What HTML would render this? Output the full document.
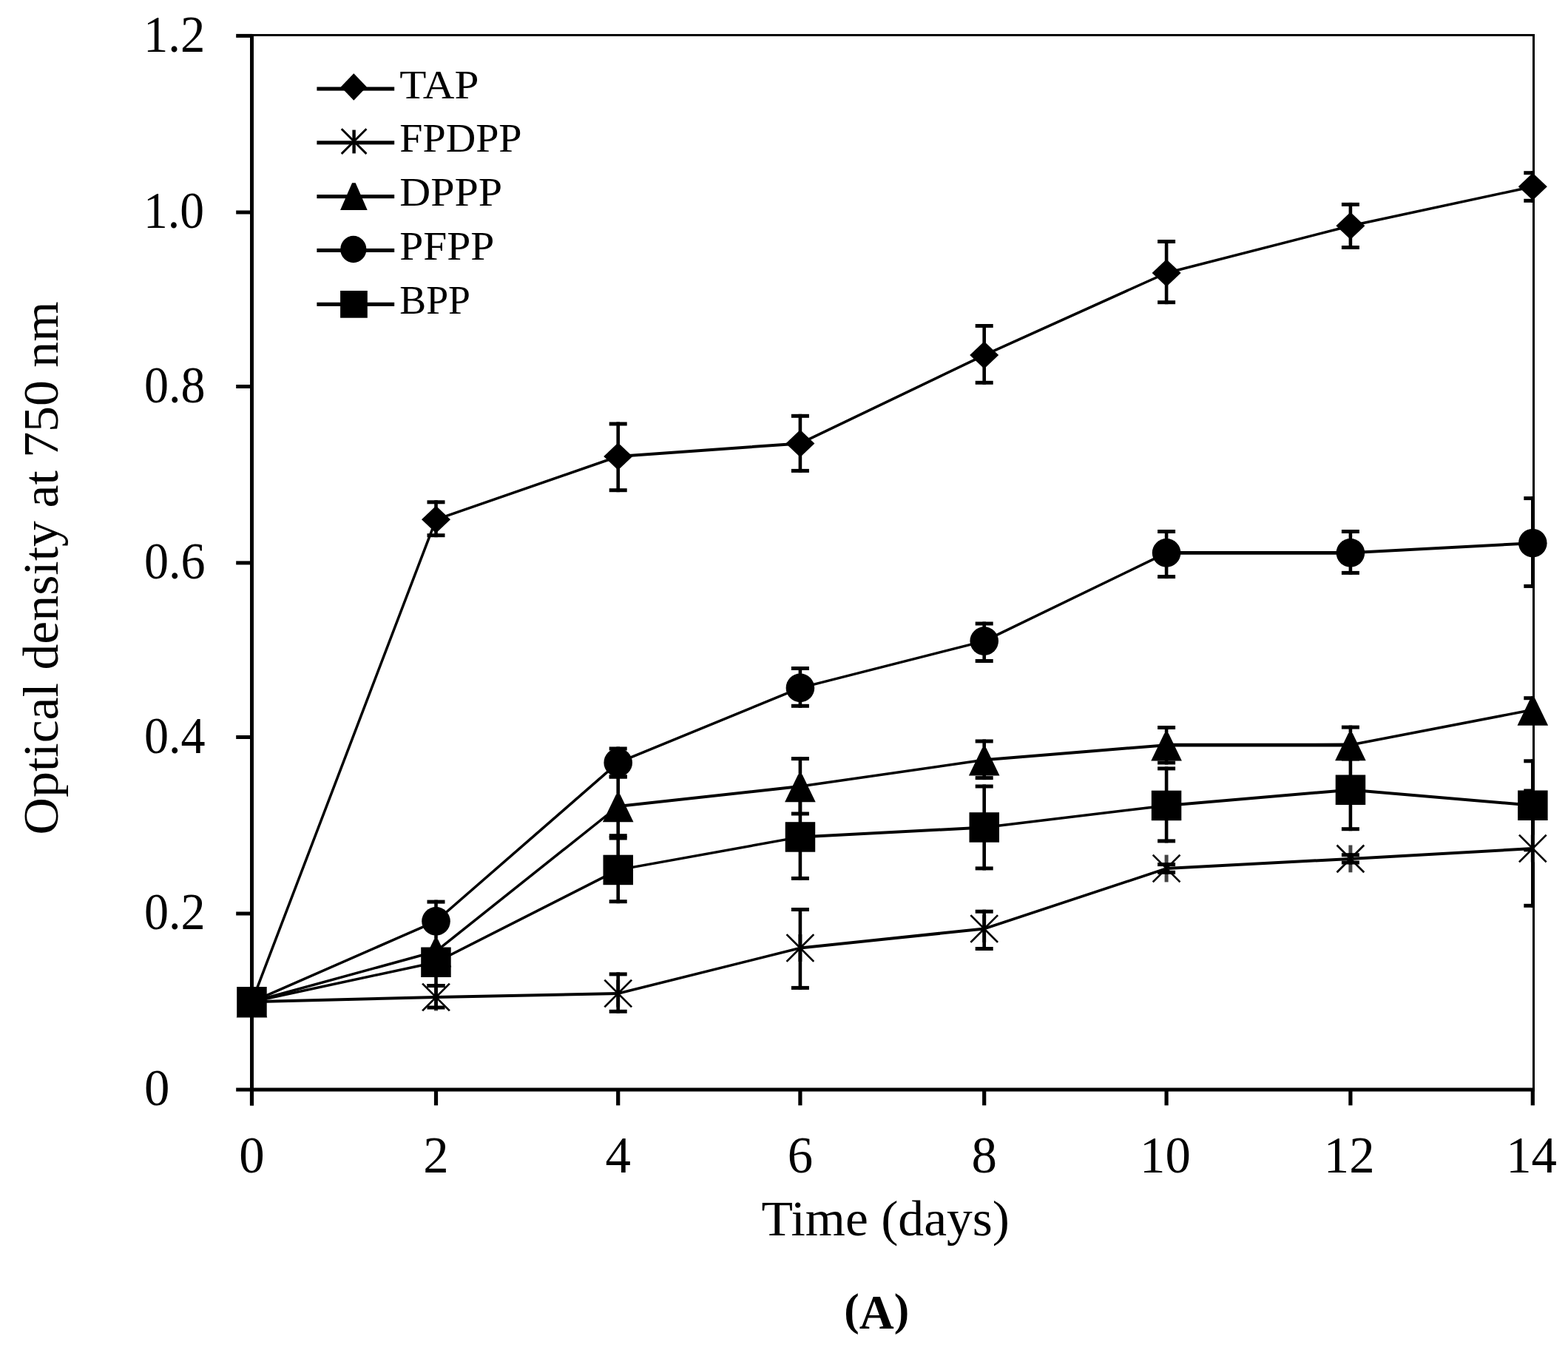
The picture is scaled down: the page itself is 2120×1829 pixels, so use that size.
<!DOCTYPE html>
<html><head><meta charset="utf-8"><title>Optical density chart</title>
<style>
html,body{margin:0;padding:0;background:#fff;}
body{width:2120px;height:1829px;overflow:hidden;}
svg{display:block;}
text{font-family:"Liberation Serif","Times New Roman",serif;fill:#000;}
</style></head>
<body>
<svg width="2120" height="1829" viewBox="0 0 2120 1829">
<defs><clipPath id="pc"><rect x="0" y="0" width="2074.6" height="1829"/></clipPath></defs>
<rect width="2120" height="1829" fill="#fff"/>
<g fill="#000">
<rect x="338" y="46" width="1737" height="3"/>
<rect x="2072" y="46" width="3" height="1429"/>
<rect x="338" y="46" width="5" height="1448.5"/>
<rect x="338" y="1470.5" width="1737" height="5"/>
<rect x="319.2" y="1470.5" width="22" height="5"/>
<rect x="319.2" y="1232.5" width="22" height="5"/>
<rect x="319.2" y="994" width="22" height="5"/>
<rect x="319.2" y="758.4" width="22" height="5"/>
<rect x="319.2" y="520" width="22" height="5"/>
<rect x="319.2" y="284.5" width="22" height="5"/>
<rect x="319.2" y="45.9" width="22" height="5"/>
<rect x="337.9" y="1472" width="5.2" height="22.3"/>
<rect x="586.9" y="1472" width="5.2" height="22.3"/>
<rect x="833.1" y="1472" width="5.2" height="22.3"/>
<rect x="1079.3" y="1472" width="5.2" height="22.3"/>
<rect x="1328.1" y="1472" width="5.2" height="22.3"/>
<rect x="1574.5" y="1472" width="5.2" height="22.3"/>
<rect x="1823.3" y="1472" width="5.2" height="22.3"/>
<rect x="2069.7" y="1472" width="5.2" height="22.3"/>
</g>
<g>
<g stroke="#000" stroke-linecap="round"><line x1="340.5" y1="1354.3" x2="589.5" y2="702.3" stroke-width="3.5"/><line x1="589.5" y1="702.3" x2="835.7" y2="617" stroke-width="3.5"/><line x1="835.7" y1="617" x2="1081.9" y2="599.4" stroke-width="4.0"/><line x1="1081.9" y1="599.4" x2="1330.7" y2="480.1" stroke-width="3.5"/><line x1="1330.7" y1="480.1" x2="1577.1" y2="369" stroke-width="3.5"/><line x1="1577.1" y1="369" x2="1825.9" y2="305.3" stroke-width="3.5"/><line x1="1825.9" y1="305.3" x2="2072.3" y2="252.3" stroke-width="3.5"/></g>
<g stroke="#000" stroke-linecap="round"><line x1="340.5" y1="1354.3" x2="589.5" y2="1348" stroke-width="4.0"/><line x1="589.5" y1="1348" x2="835.7" y2="1343" stroke-width="4.0"/><line x1="835.7" y1="1343" x2="1081.9" y2="1281.5" stroke-width="3.5"/><line x1="1081.9" y1="1281.5" x2="1330.7" y2="1255.5" stroke-width="4.0"/><line x1="1330.7" y1="1255.5" x2="1577.1" y2="1174" stroke-width="3.5"/><line x1="1577.1" y1="1174" x2="1825.9" y2="1160.9" stroke-width="4.0"/><line x1="1825.9" y1="1160.9" x2="2072.3" y2="1147" stroke-width="4.0"/></g>
<g stroke="#000" stroke-linecap="round"><line x1="340.5" y1="1354.3" x2="589.5" y2="1286" stroke-width="3.5"/><line x1="589.5" y1="1286" x2="835.7" y2="1090" stroke-width="3.5"/><line x1="835.7" y1="1090" x2="1081.9" y2="1063" stroke-width="4.0"/><line x1="1081.9" y1="1063" x2="1330.7" y2="1027.2" stroke-width="3.5"/><line x1="1330.7" y1="1027.2" x2="1577.1" y2="1007.2" stroke-width="4.0"/><line x1="1577.1" y1="1007.2" x2="1825.9" y2="1007" stroke-width="4.8"/><line x1="1825.9" y1="1007" x2="2072.3" y2="959.5" stroke-width="3.5"/></g>
<g stroke="#000" stroke-linecap="round"><line x1="340.5" y1="1354.3" x2="589.5" y2="1245.3" stroke-width="3.5"/><line x1="589.5" y1="1245.3" x2="835.7" y2="1030.9" stroke-width="3.5"/><line x1="835.7" y1="1030.9" x2="1081.9" y2="929.9" stroke-width="3.5"/><line x1="1081.9" y1="929.9" x2="1330.7" y2="866.6" stroke-width="3.5"/><line x1="1330.7" y1="866.6" x2="1577.1" y2="747.4" stroke-width="3.5"/><line x1="1577.1" y1="747.4" x2="1825.9" y2="747.3" stroke-width="4.8"/><line x1="1825.9" y1="747.3" x2="2072.3" y2="734.2" stroke-width="4.0"/></g>
<g stroke="#000" stroke-linecap="round"><line x1="340.5" y1="1354.3" x2="589.5" y2="1300.7" stroke-width="3.5"/><line x1="589.5" y1="1300.7" x2="835.7" y2="1175.9" stroke-width="3.5"/><line x1="835.7" y1="1175.9" x2="1081.9" y2="1131.4" stroke-width="3.5"/><line x1="1081.9" y1="1131.4" x2="1330.7" y2="1118.5" stroke-width="4.0"/><line x1="1330.7" y1="1118.5" x2="1577.1" y2="1088.9" stroke-width="3.5"/><line x1="1577.1" y1="1088.9" x2="1825.9" y2="1067.7" stroke-width="4.0"/><line x1="1825.9" y1="1067.7" x2="2072.3" y2="1088.8" stroke-width="4.0"/></g>
</g>
<g fill="#000">
<path d="M340.5 1335.8L360 1354.3L340.5 1372.8L321 1354.3Z"/>
<path d="M589.5 683.8L609 702.3L589.5 720.8L570 702.3Z"/>
<path d="M835.7 598.5L855.2 617L835.7 635.5L816.2 617Z"/>
<path d="M1081.9 580.9L1101.4 599.4L1081.9 617.9L1062.4 599.4Z"/>
<path d="M1330.7 461.6L1350.2 480.1L1330.7 498.6L1311.2 480.1Z"/>
<path d="M1577.1 350.5L1596.6 369L1577.1 387.5L1557.6 369Z"/>
<path d="M1825.9 286.8L1845.4 305.3L1825.9 323.8L1806.4 305.3Z"/>
<path d="M2072.3 233.8L2091.8 252.3L2072.3 270.8L2052.8 252.3Z"/>
<rect x="338" y="1335.9" width="5" height="36.8" fill="#444"/><path d="M323.1 1336.9L357.9 1371.7M323.1 1371.7L357.9 1336.9" fill="none" stroke="#000" stroke-width="2.7" stroke-linecap="square"/>
<rect x="587" y="1329.6" width="5" height="36.8" fill="#444"/><path d="M572.1 1330.6L606.9 1365.4M572.1 1365.4L606.9 1330.6" fill="none" stroke="#000" stroke-width="2.7" stroke-linecap="square"/>
<rect x="833.2" y="1324.6" width="5" height="36.8" fill="#444"/><path d="M818.3 1325.6L853.1 1360.4M818.3 1360.4L853.1 1325.6" fill="none" stroke="#000" stroke-width="2.7" stroke-linecap="square"/>
<rect x="1079.4" y="1263.1" width="5" height="36.8" fill="#444"/><path d="M1064.5 1264.1L1099.3 1298.9M1064.5 1298.9L1099.3 1264.1" fill="none" stroke="#000" stroke-width="2.7" stroke-linecap="square"/>
<rect x="1328.2" y="1237.1" width="5" height="36.8" fill="#444"/><path d="M1313.3 1238.1L1348.1 1272.9M1313.3 1272.9L1348.1 1238.1" fill="none" stroke="#000" stroke-width="2.7" stroke-linecap="square"/>
<rect x="1574.6" y="1155.6" width="5" height="36.8" fill="#444"/><path d="M1559.7 1156.6L1594.5 1191.4M1559.7 1191.4L1594.5 1156.6" fill="none" stroke="#000" stroke-width="2.7" stroke-linecap="square"/>
<rect x="1823.4" y="1142.5" width="5" height="36.8" fill="#444"/><path d="M1808.5 1143.5L1843.3 1178.3M1808.5 1178.3L1843.3 1143.5" fill="none" stroke="#000" stroke-width="2.7" stroke-linecap="square"/>
<rect x="2069.8" y="1128.6" width="5" height="36.8" fill="#444"/><path d="M2054.9 1129.6L2089.7 1164.4M2054.9 1164.4L2089.7 1129.6" fill="none" stroke="#000" stroke-width="2.7" stroke-linecap="square"/>
<path d="M337.7 1338.3L343.3 1338.3L361.3 1375.6L319.7 1375.6Z"/>
<path d="M586.7 1270L592.3 1270L610.3 1307.3L568.7 1307.3Z"/>
<path d="M832.9 1074L838.5 1074L856.5 1111.3L814.9 1111.3Z"/>
<path d="M1079.1 1047L1084.7 1047L1102.7 1084.3L1061.1 1084.3Z"/>
<path d="M1327.9 1011.2L1333.5 1011.2L1351.5 1048.5L1309.9 1048.5Z"/>
<path d="M1574.3 991.2L1579.9 991.2L1597.9 1028.5L1556.3 1028.5Z"/>
<path d="M1823.1 991L1828.7 991L1846.7 1028.3L1805.1 1028.3Z"/>
<path d="M2069.5 943.5L2075.1 943.5L2093.1 980.8L2051.5 980.8Z"/>
<circle cx="340.5" cy="1354.3" r="19.3"/>
<circle cx="589.5" cy="1245.3" r="19.3"/>
<circle cx="835.7" cy="1030.9" r="19.3"/>
<circle cx="1081.9" cy="929.9" r="19.3"/>
<circle cx="1330.7" cy="866.6" r="19.3"/>
<circle cx="1577.1" cy="747.4" r="19.3"/>
<circle cx="1825.9" cy="747.3" r="19.3"/>
<circle cx="2072.3" cy="734.2" r="19.3"/>
<rect x="320.2" y="1334" width="40.5" height="40.5"/>
<rect x="569.2" y="1280.5" width="40.5" height="40.5"/>
<rect x="815.5" y="1155.7" width="40.5" height="40.5"/>
<rect x="1061.7" y="1111.2" width="40.5" height="40.5"/>
<rect x="1310.5" y="1098.2" width="40.5" height="40.5"/>
<rect x="1556.8" y="1068.7" width="40.5" height="40.5"/>
<rect x="1805.7" y="1047.5" width="40.5" height="40.5"/>
<rect x="2052.1" y="1068.5" width="40.5" height="40.5"/>
</g>
<g fill="#000" clip-path="url(#pc)">
<rect x="587.2" y="676.3" width="4.6" height="49.9"/>
<rect x="577.5" y="676.3" width="24" height="5"/>
<rect x="577.5" y="721.2" width="24" height="5"/>
<rect x="833.4" y="570.5" width="4.6" height="94.7"/>
<rect x="823.7" y="570.5" width="24" height="5"/>
<rect x="823.7" y="660.2" width="24" height="5"/>
<rect x="1079.6" y="559.8" width="4.6" height="79.1"/>
<rect x="1069.9" y="559.8" width="24" height="5"/>
<rect x="1069.9" y="633.9" width="24" height="5"/>
<rect x="1328.4" y="438" width="4.6" height="81.8"/>
<rect x="1318.7" y="438" width="24" height="5"/>
<rect x="1318.7" y="514.8" width="24" height="5"/>
<rect x="1574.8" y="324" width="4.6" height="87.2"/>
<rect x="1565.1" y="324" width="24" height="5"/>
<rect x="1565.1" y="406.2" width="24" height="5"/>
<rect x="1823.6" y="273.9" width="4.6" height="63.1"/>
<rect x="1813.9" y="273.9" width="24" height="5"/>
<rect x="1813.9" y="332" width="24" height="5"/>
<rect x="2070" y="231.2" width="4.6" height="42.6"/>
<rect x="2060.3" y="231.2" width="24" height="5"/>
<rect x="2060.3" y="268.8" width="24" height="5"/>
<rect x="587.2" y="1330" width="4.6" height="34.5"/>
<rect x="577.5" y="1330" width="24" height="5"/>
<rect x="577.5" y="1359.5" width="24" height="5"/>
<rect x="833.4" y="1314.4" width="4.6" height="55.4"/>
<rect x="823.7" y="1314.4" width="24" height="5"/>
<rect x="823.7" y="1364.8" width="24" height="5"/>
<rect x="1079.6" y="1227" width="4.6" height="110.9"/>
<rect x="1069.9" y="1227" width="24" height="5"/>
<rect x="1069.9" y="1332.9" width="24" height="5"/>
<rect x="1328.4" y="1229.7" width="4.6" height="55.3"/>
<rect x="1318.7" y="1229.7" width="24" height="5"/>
<rect x="1318.7" y="1280" width="24" height="5"/>
<rect x="1574.8" y="1166.1" width="4.6" height="15.7"/>
<rect x="1565.1" y="1166.1" width="24" height="5"/>
<rect x="1565.1" y="1176.8" width="24" height="5"/>
<rect x="1823.6" y="1153.2" width="4.6" height="15.3"/>
<rect x="1813.9" y="1153.2" width="24" height="5"/>
<rect x="1813.9" y="1163.5" width="24" height="5"/>
<rect x="2070" y="1066.5" width="4.6" height="160.3"/>
<rect x="2060.3" y="1066.5" width="24" height="5"/>
<rect x="2060.3" y="1221.8" width="24" height="5"/>
<rect x="587.2" y="1252.5" width="4.6" height="50"/>
<rect x="577.5" y="1252.5" width="24" height="5"/>
<rect x="577.5" y="1297.5" width="24" height="5"/>
<rect x="833.4" y="1047.5" width="4.6" height="84.7"/>
<rect x="823.7" y="1047.5" width="24" height="5"/>
<rect x="823.7" y="1127.2" width="24" height="5"/>
<rect x="1079.6" y="1023.1" width="4.6" height="79.4"/>
<rect x="1069.9" y="1023.1" width="24" height="5"/>
<rect x="1069.9" y="1097.5" width="24" height="5"/>
<rect x="1328.4" y="999.5" width="4.6" height="54.6"/>
<rect x="1318.7" y="999.5" width="24" height="5"/>
<rect x="1318.7" y="1049.1" width="24" height="5"/>
<rect x="1574.8" y="981" width="4.6" height="52.5"/>
<rect x="1565.1" y="981" width="24" height="5"/>
<rect x="1565.1" y="1028.5" width="24" height="5"/>
<rect x="1823.6" y="980.6" width="4.6" height="47.9"/>
<rect x="1813.9" y="980.6" width="24" height="5"/>
<rect x="1813.9" y="1023.5" width="24" height="5"/>
<rect x="2070" y="941.2" width="4.6" height="37.3"/>
<rect x="2060.3" y="941.2" width="24" height="5"/>
<rect x="2060.3" y="973.5" width="24" height="5"/>
<rect x="587.2" y="1216.6" width="4.6" height="35.9"/>
<rect x="577.5" y="1216.6" width="24" height="5"/>
<rect x="577.5" y="1247.5" width="24" height="5"/>
<rect x="833.4" y="1009.5" width="4.6" height="43"/>
<rect x="823.7" y="1009.5" width="24" height="5"/>
<rect x="823.7" y="1047.5" width="24" height="5"/>
<rect x="1079.6" y="901" width="4.6" height="55.8"/>
<rect x="1069.9" y="901" width="24" height="5"/>
<rect x="1069.9" y="951.8" width="24" height="5"/>
<rect x="1328.4" y="840.5" width="4.6" height="55.5"/>
<rect x="1318.7" y="840.5" width="24" height="5"/>
<rect x="1318.7" y="891" width="24" height="5"/>
<rect x="1574.8" y="716" width="4.6" height="66.1"/>
<rect x="1565.1" y="716" width="24" height="5"/>
<rect x="1565.1" y="777.1" width="24" height="5"/>
<rect x="1823.6" y="716" width="4.6" height="60.9"/>
<rect x="1813.9" y="716" width="24" height="5"/>
<rect x="1813.9" y="771.9" width="24" height="5"/>
<rect x="2070" y="671.1" width="4.6" height="123.8"/>
<rect x="2060.3" y="671.1" width="24" height="5"/>
<rect x="2060.3" y="789.9" width="24" height="5"/>
<rect x="587.2" y="1287.5" width="4.6" height="47.5"/>
<rect x="577.5" y="1287.5" width="24" height="5"/>
<rect x="577.5" y="1330" width="24" height="5"/>
<rect x="833.4" y="1130.5" width="4.6" height="90.7"/>
<rect x="823.7" y="1130.5" width="24" height="5"/>
<rect x="823.7" y="1216.2" width="24" height="5"/>
<rect x="1079.6" y="1072.9" width="4.6" height="117"/>
<rect x="1069.9" y="1072.9" width="24" height="5"/>
<rect x="1069.9" y="1184.9" width="24" height="5"/>
<rect x="1328.4" y="1060.5" width="4.6" height="115.9"/>
<rect x="1318.7" y="1060.5" width="24" height="5"/>
<rect x="1318.7" y="1171.4" width="24" height="5"/>
<rect x="1574.8" y="1036.4" width="4.6" height="103"/>
<rect x="1565.1" y="1036.4" width="24" height="5"/>
<rect x="1565.1" y="1134.4" width="24" height="5"/>
<rect x="1823.6" y="1012.2" width="4.6" height="111"/>
<rect x="1813.9" y="1012.2" width="24" height="5"/>
<rect x="1813.9" y="1118.2" width="24" height="5"/>
<rect x="2070" y="1026.3" width="4.6" height="125"/>
<rect x="2060.3" y="1026.3" width="24" height="5"/>
<rect x="2060.3" y="1146.3" width="24" height="5"/>
</g>
<g fill="#000">
<rect x="428.4" y="117.5" width="104.8" height="5.1"/>
<rect x="428.4" y="190.3" width="104.8" height="5.1"/>
<rect x="428.4" y="263.1" width="104.8" height="5.1"/>
<rect x="428.4" y="335.9" width="104.8" height="5.1"/>
<rect x="428.4" y="408.8" width="104.8" height="5.1"/>
<path d="M478.3 99.2L495.8 117.4L478.3 135.7L460.8 117.4Z"/>
<path d="M462.8 175.3L494.4 206.9M462.8 206.9L494.4 175.3" fill="none" stroke="#000" stroke-width="2.9" stroke-linecap="square"/>
<rect x="476.4" y="175.6" width="4.4" height="31.8"/>
<path d="M476.1 247.2L480.7 247.2L496.7 283.9L460.1 283.9Z"/>
<ellipse cx="477.8" cy="337" rx="17.6" ry="18.2"/>
<rect x="460.1" y="393" width="36.7" height="36.7"/>
</g>
<text x="194.0" y="69.6" font-size="68.8" textLength="83.3" lengthAdjust="spacingAndGlyphs">1.2</text>
<text x="194.0" y="308.2" font-size="68.8" textLength="82.0" lengthAdjust="spacingAndGlyphs">1.0</text>
<text x="195.0" y="543.7" font-size="68.8" textLength="82.6" lengthAdjust="spacingAndGlyphs">0.8</text>
<text x="195.0" y="782.1" font-size="68.8" textLength="82.6" lengthAdjust="spacingAndGlyphs">0.6</text>
<text x="195.0" y="1017.7" font-size="68.8" textLength="82.6" lengthAdjust="spacingAndGlyphs">0.4</text>
<text x="195.0" y="1256.2" font-size="68.8" textLength="82.6" lengthAdjust="spacingAndGlyphs">0.2</text>
<text x="194.9" y="1494.2" font-size="68.8">0</text>
<text x="340.5" y="1584.8" font-size="68.8" text-anchor="middle">0</text>
<text x="589.5" y="1584.8" font-size="68.8" text-anchor="middle">2</text>
<text x="835.7" y="1584.8" font-size="68.8" text-anchor="middle">4</text>
<text x="1081.9" y="1584.8" font-size="68.8" text-anchor="middle">6</text>
<text x="1330.7" y="1584.8" font-size="68.8" text-anchor="middle">8</text>
<text x="1575.4" y="1584.8" font-size="68.8" text-anchor="middle">10</text>
<text x="1824.2" y="1584.8" font-size="68.8" text-anchor="middle">12</text>
<text x="2070.6" y="1584.8" font-size="68.8" text-anchor="middle">14</text>
<text x="1029.5" y="1669.5" font-size="68.5" textLength="335.5" lengthAdjust="spacingAndGlyphs">Time (days)</text>
<text transform="translate(78 1128.4) rotate(-90)" font-size="68.5" textLength="720.9" lengthAdjust="spacingAndGlyphs">Optical density at 750 nm</text>
<text x="1141.2" y="1795.6" font-size="65" font-weight="bold"><tspan font-size="61.5" dy="-4.6">(</tspan><tspan dy="4.6">A</tspan><tspan font-size="61.5" dy="-4.6">)</tspan></text>
<text x="540.3" y="132.8" font-size="55" textLength="107" lengthAdjust="spacingAndGlyphs">TAP</text>
<text x="540.3" y="205.2" font-size="55" textLength="165.2" lengthAdjust="spacingAndGlyphs">FPDPP</text>
<text x="540.3" y="278.4" font-size="55" textLength="138.8" lengthAdjust="spacingAndGlyphs">DPPP</text>
<text x="540.3" y="351.0" font-size="55" textLength="128.1" lengthAdjust="spacingAndGlyphs">PFPP</text>
<text x="540.3" y="424.0" font-size="55" textLength="95.7" lengthAdjust="spacingAndGlyphs">BPP</text>
</svg>
</body></html>
